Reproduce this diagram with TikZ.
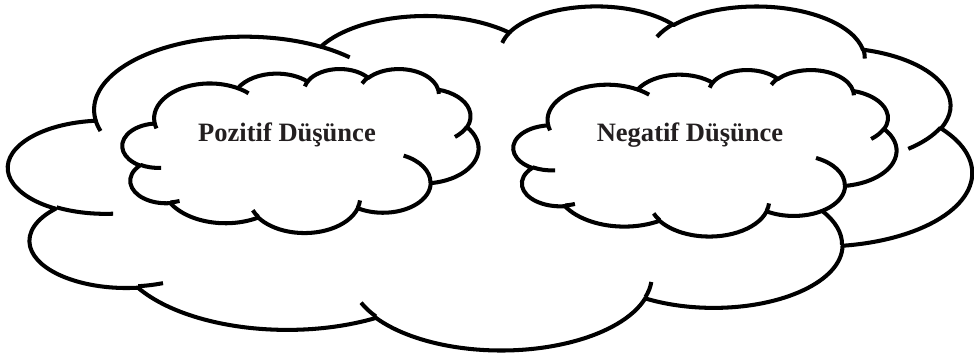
\documentclass[tikz,border=0pt]{standalone}
\usepackage{fontspec}
\setmainfont{Liberation Serif}
\usetikzlibrary{positioning}

\definecolor{textdark}{RGB}{35,31,32}

\tikzset{
  cloudline/.style={line width=2.3pt, line join=round},
  thought/.style={font=\fontsize{15.1}{18}\selectfont\bfseries, text=textdark, inner sep=0pt, anchor=base}
}

% one bump of a cloud: radii, start angle, sweep (angles as seen on the page)
\newcommand{\cloudarc}[4]{%
  \pgfextra{%
    \pgfmathparse{#3+Mod(atan2(#1*sin(#3),#2*cos(#3))-(#3)+180,360)-180}\xdef\arcst{\pgfmathresult}%
    \pgfmathparse{#3+#4+Mod(atan2(#1*sin(#3+#4),#2*cos(#3+#4))-(#3+#4)+180,360)-180}\xdef\arcen{\pgfmathresult}%
  }
  arc[x radius=#1, y radius=#2, start angle=\arcst, end angle=\arcen]}

% cloud in the box left, top, width, height
\newcommand{\drawcloud}[4]{%
  \pgfmathsetmacro\cw{#3*0.569055/43.2}%
  \pgfmathsetmacro\ch{#4*0.569055/43.2}%
  \begin{scope}[shift={(#1,#2)}, x=\cw pt, y=-\ch pt]
    % outline
    \filldraw[cloudline, fill=white] (3.900,14.370)
      \cloudarc{6.753}{9.190}{-190.48748}{123.78053}
      \cloudarc{5.333}{7.267}{-144.10238}{89.94523}
      \cloudarc{4.365}{5.945}{-145.80792}{99.72302}
      \cloudarc{4.857}{6.595}{-130.98607}{117.24173}
      \cloudarc{5.333}{7.273}{-78.70888}{109.02692}
      \cloudarc{6.775}{9.220}{-46.26725}{130.269}
      \cloudarc{5.785}{7.867}{0.62502}{114.03333}
      \cloudarc{6.752}{9.215}{22.4516}{115.17255}
      \cloudarc{7.720}{10.543}{66.24263}{75.71102}
      \cloudarc{4.360}{5.918}{-274.94208}{146.73557}
      \cloudarc{4.345}{5.945}{-246.8285}{152.51885}
      -- cycle;
    % inner ends of the bumps
    \draw[cloudline] (4.693,26.177) \cloudarc{4.345}{5.945}{86.742}{26.4295};
    \draw[cloudline] (6.928,34.899) \cloudarc{4.360}{5.918}{73.6105}{11.4475};
    \draw[cloudline] (16.478,39.090) \cloudarc{6.752}{9.215}{137.6242}{14.0811};
    \draw[cloudline] (28.827,34.751) \cloudarc{6.752}{9.215}{6.4533}{15.9984};
    \draw[cloudline] (34.129,22.954) \cloudarc{5.785}{7.867}{-70.2924}{70.9174};
    \draw[cloudline] (41.798,15.354) \cloudarc{5.333}{7.273}{30.3180}{27.7515};
    \draw[cloudline] (38.324,5.426) \cloudarc{4.857}{6.595}{-13.7443}{14.8589};
    \draw[cloudline] (29.078,3.952) \cloudarc{4.857}{6.595}{-149.1815}{18.1954};
    \draw[cloudline] (22.141,4.720) \cloudarc{4.365}{5.945}{-163.4943}{17.6864};
    \draw[cloudline] (14.000,5.192) \cloudarc{6.753}{9.190}{-66.71}{12.32};
    \draw[cloudline] (4.127,15.789) \cloudarc{6.753}{9.190}{157.6544}{11.8539};
  \end{scope}}

\begin{document}
\begin{tikzpicture}[x=0.02cm, y=-0.02cm]
  \useasboundingbox (0,0) rectangle (974,358);

  % big cloud
  \drawcloud{8.5}{5.3}{963.5}{344}

  % the two thought clouds inside
  \drawcloud{122.5}{68.5}{356}{164}
  \drawcloud{513.5}{69.5}{383}{166.5}

  \node[thought] (pozitif) at (287,141.7) {Pozitif Düşünce};
  \node[thought] (negatif) at (690,141.7) {Negatif Düşünce};
\end{tikzpicture}
\end{document}
